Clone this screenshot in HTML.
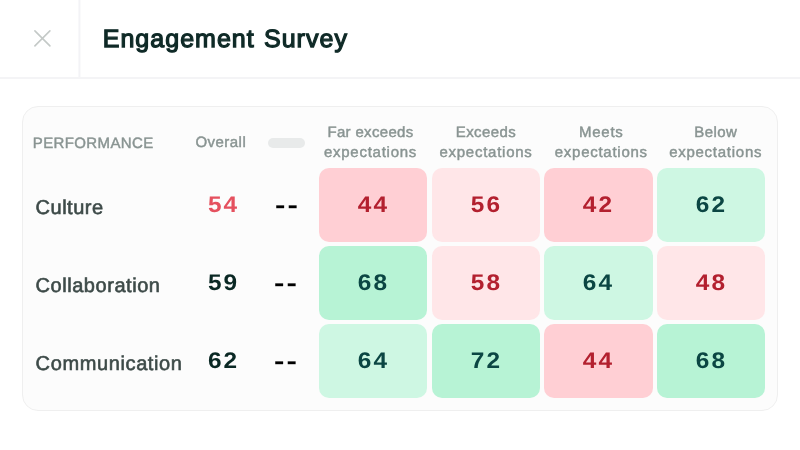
<!DOCTYPE html>
<html lang="en">
<head>
<meta charset="utf-8">
<title>Engagement Survey</title>
<style>
  html, body { margin: 0; padding: 0; }
  body {
    width: 800px; height: 450px; overflow: hidden; position: relative;
    background: #ffffff;
    font-family: "Liberation Sans", sans-serif;
    text-rendering: geometricPrecision;
  }
  .stage { position: absolute; left: 0; top: 0; width: 800px; height: 450px; overflow: hidden; transform: translateZ(0); will-change: transform; }
  .abs { position: absolute; white-space: nowrap; line-height: 1; }

  /* header */
  .hdr-line { position: absolute; left: 0; top: 77px; width: 800px; height: 2px; background: #f4f4f6; }
  .hdr-vline { position: absolute; left: 78px; top: 0; width: 3px; height: 77px; background: linear-gradient(to right, #f8f8fa 0, #f8f8fa 1px, #f3f3f6 1px, #f3f3f6 2px, #fafafb 2px, #fafafb 3px); }
  .close { position: absolute; left: 32px; top: 28px; width: 21px; height: 21px; }
  .title { left: 102.7px; top: 26.8px; font-size: 25px; font-weight: 400; color: #0f2a27; -webkit-text-stroke: 1.25px #0f2a27; letter-spacing: 1.03px; word-spacing: 1.2px; }

  /* card */
  .card {
    position: absolute; left: 22px; top: 106px; width: 754px; height: 303px;
    border: 1px solid #efefef; border-radius: 16px; background: #fcfcfc;
  }

  .th { color: #899492; font-size: 15px; -webkit-text-stroke: 0.45px #899492; }
  .perf { left: 32.8px; top: 135.6px; letter-spacing: 0.38px; }
  .overall { left: 195.4px; top: 135.1px; letter-spacing: 0.47px; }
  .pill { position: absolute; left: 268px; top: 138px; width: 37px; height: 9.5px; border-radius: 5px; background: #e8eaea; }
  .colh { position: absolute; width: 160px; margin-left: -80px; text-align: center; line-height: 20px; font-size: 15px; color: #899492; top: 123.3px; -webkit-text-stroke: 0.45px #899492; }
  .colh .l1 { letter-spacing: 0.42px; }
  .colh .l2 { letter-spacing: 0.74px; }

  .rl { left: 35.6px; font-size: 20px; color: #3d4a48; letter-spacing: 0.5px; -webkit-text-stroke: 0.6px #3d4a48; }
  .num { font-size: 22.6px; font-weight: 700; letter-spacing: 1.87px; transform: scaleX(1.08); transform-origin: 0 50%; }
  .ov { left: 207.7px; }
  .dash { font-size: 24px; font-weight: 700; color: #000; transform: scaleX(1.3); transform-origin: 0 50%; letter-spacing: 1.69px; }

  .cell {
    position: absolute; width: 108.2px; height: 74px; border-radius: 10px;
    display: flex; align-items: center; justify-content: center;
  }
  .cell span { display: inline-block; font-size: 22.6px; font-weight: 700; letter-spacing: 1.87px; transform: scaleX(1.08); line-height: 1; position: relative; top: -0.1px; left: 0.3px; }
  .r1 { top: 168px; } .r2 { top: 246px; } .r3 { top: 324px; }
  .c1 { left: 319px; } .c2 { left: 431.8px; } .c3 { left: 544.4px; } .c4 { left: 657.1px; }
  .rs { background: #ffcfd4; color: #b3202f; }
  .rw { background: #ffe6e8; color: #b3202f; }
  .gs { background: #b7f3d5; color: #0b4643; }
  .gw { background: #cef7e3; color: #0b4643; }
</style>
</head>
<body>
<div class="stage">
  <div class="hdr-line"></div>
  <div class="hdr-vline"></div>
  <svg class="close" viewBox="0 0 21 21"><path d="M2.9 2.9 L17.9 17.9 M17.9 2.9 L2.9 17.9" stroke="#c4c9c7" stroke-width="1.6" fill="none" stroke-linecap="round"/></svg>
  <div class="abs title">Engagement Survey</div>

  <div class="card"></div>

  <div class="abs th perf">PERFORMANCE</div>
  <div class="abs th overall">Overall</div>
  <div class="pill"></div>
  <div class="colh" style="left:370.5px"><span class="l1" style="letter-spacing:0.33px">Far exceeds</span><br><span class="l2">expectations</span></div>
  <div class="colh" style="left:486px"><span class="l1">Exceeds</span><br><span class="l2">expectations</span></div>
  <div class="colh" style="left:601.3px"><span class="l1" style="letter-spacing:0.7px">Meets</span><br><span class="l2">expectations</span></div>
  <div class="colh" style="left:715.7px"><span class="l1">Below</span><br><span class="l2">expectations</span></div>

  <div class="abs rl" style="top:198.2px">Culture</div>
  <div class="abs rl" style="top:276.2px;letter-spacing:0.54px">Collaboration</div>
  <div class="abs rl" style="top:354.2px;letter-spacing:0.62px">Communication</div>

  <div class="abs num ov" style="top:193.65px;color:#e5515f">54</div>
  <div class="abs num ov" style="top:271.65px;color:#0a2824">59</div>
  <div class="abs num ov" style="top:349.65px;color:#0a2824">62</div>

  <div class="abs dash" style="left:274.8px;top:193.9px">--</div>
  <div class="abs dash" style="left:273.8px;top:272px">--</div>
  <div class="abs dash" style="left:273.8px;top:350px">--</div>

  <div class="cell r1 c1 rs"><span>44</span></div>
  <div class="cell r1 c2 rw"><span>56</span></div>
  <div class="cell r1 c3 rs"><span>42</span></div>
  <div class="cell r1 c4 gw"><span>62</span></div>

  <div class="cell r2 c1 gs"><span>68</span></div>
  <div class="cell r2 c2 rw"><span>58</span></div>
  <div class="cell r2 c3 gw"><span>64</span></div>
  <div class="cell r2 c4 rw"><span>48</span></div>

  <div class="cell r3 c1 gw"><span>64</span></div>
  <div class="cell r3 c2 gs"><span>72</span></div>
  <div class="cell r3 c3 rs"><span>44</span></div>
  <div class="cell r3 c4 gs"><span>68</span></div>
</div>
</body>
</html>
